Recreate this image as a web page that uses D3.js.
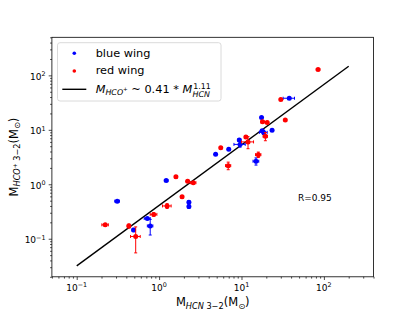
<!DOCTYPE html>
<html>
<head>
<meta charset="utf-8">
<script src="https://cdn.jsdelivr.net/npm/d3@7"></script>
<style>
  body { margin: 0; background: #fff; }
  svg { display: block; font-family: "DejaVu Sans", sans-serif; }
</style>
</head>
<body>
<div id="chart"></div>
<script>
// values
var blueX    = [0.31, 1.22, 0.72, 0.49, 0.78, 2.3, 2.3, 4.85, 7.0, 9.4, 9.6, 15.0, 17.5, 18.5, 17.8, 23.5, 38];
var blueY    = [0.49, 1.17, 0.235, 0.145, 0.172, 0.47, 0.39, 3.55, 4.4, 6.5, 5.4, 2.65, 16.8, 9.0, 9.6, 9.8, 38];
var blueXerr = [0.02, 0.06, 0.06, 0.02, 0.06, 0.05, 0.05, 0.1, 0.2, 0.4, 1.5, 1.2, 0.5, 2.0, 0.6, 0.6, 6];
var blueYerr = [0.01, 0.03, 0.01, 0.01, 0.055, 0.03, 0.03, 0.1, 0.15, 0.3, 0.6, 0.4, 0.5, 0.8, 0.5, 0.4, 1.5];

var redX    = [0.222, 0.43, 0.52, 0.86, 1.25, 1.6, 1.9, 2.22, 2.6, 5.6, 6.9, 11.3, 12.0, 16.0, 18.0, 20.5, 19.5, 30, 34, 85];
var redY    = [0.18, 0.172, 0.11, 0.28, 0.40, 1.37, 0.59, 1.14, 1.07, 4.7, 2.2, 7.4, 6.0, 3.5, 14.0, 13.7, 7.6, 36, 15.2, 128];
var redXerr = [0.02, 0.02, 0.07, 0.08, 0.15, 0.06, 0.06, 0.08, 0.2, 0.15, 0.5, 0.4, 2.0, 1.2, 0.8, 0.8, 1.2, 1.0, 0.8, 4];
var redYerr = [0.01, 0.015, 0.055, 0.02, 0.04, 0.05, 0.03, 0.05, 0.05, 0.15, 0.35, 0.3, 1.5, 0.4, 0.5, 0.5, 1.3, 1.0, 0.6, 3];

// fit from the legend: M_HCO+ ~ 0.41 * M_HCN^1.11
var fitA = 0.41, fitB = 1.11;
var fitX = [0.1, 200];

var xMajor = [0.1, 1, 10, 100];
var yMajor = [0.1, 1, 10, 100];
var xExp = ["\u22121", "0", "1", "2"];
var yExp = ["\u22121", "0", "1", "2"];

var svgWidth = 415, svgHeight = 311;
var margin = { top: 37.3, right: 41.5, bottom: 34.2, left: 51.9 };
var chartWidth = svgWidth - margin.left - margin.right;
var chartHeight = svgHeight - margin.top - margin.bottom;

var svg = d3.select("#chart").append("svg")
  .attr("width", svgWidth)
  .attr("height", svgHeight);

var chartGroup = svg.append("g")
  .attr("transform", `translate(${margin.left}, ${margin.top})`);

var xScale = d3.scaleLog().domain([0.05, 400]).range([0, chartWidth]);
var yScale = d3.scaleLog().domain([0.02, 500]).range([chartHeight, 0]);

// minor ticks 2..9 in every decade
function minors(domain) {
  var out = [];
  for (var e = -3; e <= 3; e++) {
    for (var m = 2; m <= 9; m++) {
      var v = m * Math.pow(10, e);
      if (v >= domain[0] && v <= domain[1]) out.push(v);
    }
  }
  return out;
}

function styleAxis(g) {
  g.select(".domain").remove();
  g.selectAll("line").attr("stroke", "#000").attr("stroke-width", 0.7);
}

chartGroup.append("g")
  .attr("transform", `translate(0, ${chartHeight})`)
  .call(d3.axisBottom(xScale).tickValues(minors(xScale.domain())).tickSize(1.8).tickFormat(""))
  .call(styleAxis);
chartGroup.append("g")
  .attr("transform", `translate(0, ${chartHeight})`)
  .call(d3.axisBottom(xScale).tickValues(xMajor).tickSize(3.2).tickFormat(""))
  .call(styleAxis);
chartGroup.append("g")
  .call(d3.axisLeft(yScale).tickValues(minors(yScale.domain())).tickSize(1.8).tickFormat(""))
  .call(styleAxis);
chartGroup.append("g")
  .call(d3.axisLeft(yScale).tickValues(yMajor).tickSize(3.2).tickFormat(""))
  .call(styleAxis);

// tick labels like 10^-1
function powerLabel(sel, exps) {
  sel.append("tspan").text("10");
  sel.append("tspan").attr("font-size", 6.4).attr("dy", -3.6).text(function(d, i) { return exps[i]; });
}

chartGroup.append("g").selectAll("text")
  .data(xMajor)
  .enter()
  .append("text")
    .attr("x", function(d) { return xScale(d); })
    .attr("y", chartHeight + 14)
    .attr("text-anchor", "middle")
    .attr("font-size", 9)
    .attr("fill", "#000")
    .call(powerLabel, xExp);

chartGroup.append("g").selectAll("text")
  .data(yMajor)
  .enter()
  .append("text")
    .attr("x", -6.4)
    .attr("y", function(d) { return yScale(d) + 4.5; })
    .attr("text-anchor", "end")
    .attr("font-size", 9)
    .attr("fill", "#000")
    .call(powerLabel, yExp);

// fit line
var line = d3.line()
  .x(function(d) { return xScale(d); })
  .y(function(d) { return yScale(fitA * Math.pow(d, fitB)); });

chartGroup.append("path")
  .datum(fitX)
  .attr("d", line)
  .attr("fill", "none")
  .attr("stroke", "#000")
  .attr("stroke-width", 1.4);

// error bars + points
function drawSeries(xs, ys, xe, ye, color) {
  var data = xs.map(function(v, i) { return { x: v, y: ys[i], xe: xe[i], ye: ye[i] }; });
  var g = chartGroup.append("g");
  var bars = g.selectAll("g").data(data).enter().append("g")
    .attr("stroke", color).attr("stroke-width", 1);
  bars.append("line")
    .attr("x1", function(d) { return xScale(d.x - d.xe); })
    .attr("x2", function(d) { return xScale(d.x + d.xe); })
    .attr("y1", function(d) { return yScale(d.y); })
    .attr("y2", function(d) { return yScale(d.y); });
  bars.append("line")
    .attr("x1", function(d) { return xScale(d.x); })
    .attr("x2", function(d) { return xScale(d.x); })
    .attr("y1", function(d) { return yScale(d.y - d.ye); })
    .attr("y2", function(d) { return yScale(d.y + d.ye); });
  // caps
  [-1, 1].forEach(function(s) {
    bars.append("line")
      .attr("x1", function(d) { return xScale(d.x + s * d.xe); })
      .attr("x2", function(d) { return xScale(d.x + s * d.xe); })
      .attr("y1", function(d) { return yScale(d.y) - 1.5; })
      .attr("y2", function(d) { return yScale(d.y) + 1.5; });
    bars.append("line")
      .attr("x1", function(d) { return xScale(d.x) - 1.5; })
      .attr("x2", function(d) { return xScale(d.x) + 1.5; })
      .attr("y1", function(d) { return yScale(d.y + s * d.ye); })
      .attr("y2", function(d) { return yScale(d.y + s * d.ye); });
  });
  g.selectAll("circle").data(data).enter().append("circle")
    .attr("cx", function(d) { return xScale(d.x); })
    .attr("cy", function(d) { return yScale(d.y); })
    .attr("r", 2.5)
    .attr("fill", color);
}

drawSeries(blueX, blueY, blueXerr, blueYerr, "blue");
drawSeries(redX, redY, redXerr, redYerr, "red");

// frame
chartGroup.append("rect")
  .attr("width", chartWidth)
  .attr("height", chartHeight)
  .attr("fill", "none")
  .attr("stroke", "#000")
  .attr("stroke-width", 0.8);

chartGroup.append("text")
  .attr("x", 246)
  .attr("y", 164)
  .attr("font-size", 9)
  .text("R=0.95");

// legend
var legend = svg.append("g").attr("transform", "translate(57.5, 42.7)");
legend.append("rect")
  .attr("width", 163.5)
  .attr("height", 58.3)
  .attr("rx", 2.5)
  .attr("fill", "#fff")
  .attr("fill-opacity", 0.8)
  .attr("stroke", "#d0d0d0")
  .attr("stroke-width", 0.8);
legend.append("circle").attr("cx", 16.8).attr("cy", 10.6).attr("r", 1.8).attr("fill", "blue");
legend.append("circle").attr("cx", 16.8).attr("cy", 28.3).attr("r", 1.8).attr("fill", "red");
legend.append("line").attr("x1", 4.8).attr("x2", 28.8).attr("y1", 46.6).attr("y2", 46.6)
  .attr("stroke", "#000").attr("stroke-width", 1.4);
legend.append("text").attr("x", 38.2).attr("y", 14.3).attr("font-size", 11.3).text("blue wing");
legend.append("text").attr("x", 38.2).attr("y", 31.8).attr("font-size", 11.3).text("red wing");

// legend formula, mathtext style
var f = legend.append("text").attr("x", 38.2).attr("y", 50.5).attr("font-size", 11.3);
f.append("tspan").attr("font-style", "italic").text("M");
f.append("tspan").attr("font-style", "italic").attr("font-size", 7.9).attr("dy", 2.2).text("HCO");
f.append("tspan").attr("font-size", 5.6).attr("dy", -4.6).text("+");
f.append("tspan").attr("dy", 2.4).text(" ~ 0.41 * ");
f.append("tspan").attr("font-style", "italic").text("M");
var fEnd = f.node().getComputedTextLength();
legend.append("text").attr("x", 38.2 + fEnd + 1).attr("y", 46.2).attr("font-size", 7.9).text("1.11");
legend.append("text").attr("x", 38.2 + fEnd + 0.3).attr("y", 54.0).attr("font-size", 7.9)
  .attr("font-style", "italic").text("HCN");

// axis labels
var xl = svg.append("text")
  .attr("x", margin.left + chartWidth / 2)
  .attr("y", 306)
  .attr("text-anchor", "middle")
  .attr("font-size", 11.5);
xl.append("tspan").text("M");
xl.append("tspan").attr("font-size", 8.2).attr("font-style", "italic").attr("dy", 2.6).text("HCN");
xl.append("tspan").attr("font-size", 8.2).text(" 3\u22122");
xl.append("tspan").attr("dy", -2.6).text("(M");
xl.append("tspan").attr("font-size", 8.2).attr("dy", 2.6).text("\u2299");
xl.append("tspan").attr("dy", -2.6).text(")");

var yl = svg.append("text")
  .attr("transform", `translate(17.5, ${margin.top + chartHeight / 2}) rotate(-90)`)
  .attr("text-anchor", "middle")
  .attr("font-size", 11.5);
yl.append("tspan").text("M");
yl.append("tspan").attr("font-size", 8.2).attr("font-style", "italic").attr("dy", 2.6).text("HCO");
yl.append("tspan").attr("font-size", 5.8).attr("dy", -3.6).text("+");
yl.append("tspan").attr("font-size", 8.2).attr("dy", 3.6).text(" 3\u22122");
yl.append("tspan").attr("dy", -2.6).text("(M");
yl.append("tspan").attr("font-size", 8.2).attr("dy", 2.6).text("\u2299");
yl.append("tspan").attr("dy", -2.6).text(")");
</script>
</body>
</html>
